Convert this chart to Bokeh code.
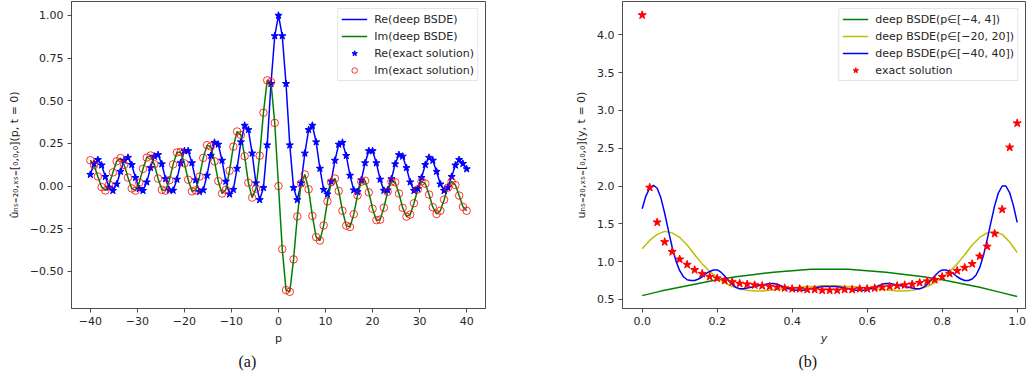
from bokeh.plotting import figure
from bokeh.layouts import row
from bokeh.models import Range1d, FixedTicker, Title
from bokeh.embed import file_html
from bokeh.resources import INLINE

# ---------------- panel (a) data ----------------
p_grid = [-40.0, -39.2, -38.4, -37.6, -36.8, -36.0, -35.2, -34.4, -33.6, -32.8,
          -32.0, -31.2, -30.4, -29.6, -28.8, -28.0, -27.2, -26.4, -25.6, -24.8,
          -24.0, -23.2, -22.4, -21.6, -20.8, -20.0, -19.2, -18.4, -17.6, -16.8,
          -16.0, -15.2, -14.4, -13.6, -12.8, -12.0, -11.2, -10.4, -9.6, -8.8,
          -8.0, -7.2, -6.4, -5.6, -4.8, -4.0, -3.2, -2.4, -1.6, -0.8,
          0.0,
          0.8, 1.6, 2.4, 3.2, 4.0, 4.8, 5.6, 6.4, 7.2, 8.0,
          8.8, 9.6, 10.4, 11.2, 12.0, 12.8, 13.6, 14.4, 15.2, 16.0,
          16.8, 17.6, 18.4, 19.2, 20.0, 20.8, 21.6, 22.4, 23.2, 24.0,
          24.8, 25.6, 26.4, 27.2, 28.0, 28.8, 29.6, 30.4, 31.2, 32.0,
          32.8, 33.6, 34.4, 35.2, 36.0, 36.8, 37.6, 38.4, 39.2, 40.0]

re_exact = [0.067, 0.131, 0.154, 0.122, 0.055, -0.008, -0.027, 0.011, 0.085, 0.150,
            0.167, 0.125, 0.049, -0.016, -0.027, 0.023, 0.107, 0.174, 0.183, 0.129,
            0.042, -0.024, -0.026, 0.039, 0.135, 0.206, 0.206, 0.135, 0.035, -0.034,
            -0.024, 0.062, 0.178, 0.255, 0.244, 0.150, 0.027, -0.048, -0.021, 0.103,
            0.258, 0.355, 0.330, 0.192, 0.017, -0.081, -0.010, 0.240, 0.600, 0.880,
            1.000,
            0.880, 0.600, 0.240, -0.010, -0.081, 0.017, 0.192, 0.330, 0.355, 0.258,
            0.103, -0.021, -0.048, 0.027, 0.150, 0.244, 0.255, 0.178, 0.062, -0.024,
            -0.034, 0.035, 0.135, 0.206, 0.206, 0.135, 0.039, -0.026, -0.024, 0.042,
            0.129, 0.183, 0.174, 0.107, 0.023, -0.027, -0.016, 0.049, 0.125, 0.167,
            0.150, 0.085, 0.011, -0.027, -0.008, 0.055, 0.122, 0.154, 0.131, 0.100]

im_exact = [0.151, 0.122, 0.056, -0.006, -0.026, 0.009, 0.080, 0.145, 0.164, 0.124,
            0.050, -0.014, -0.027, 0.020, 0.101, 0.167, 0.179, 0.128, 0.044, -0.022,
            -0.027, 0.034, 0.127, 0.197, 0.200, 0.133, 0.037, -0.031, -0.025, 0.055,
            0.165, 0.240, 0.232, 0.145, 0.029, -0.044, -0.022, 0.090, 0.231, 0.320,
            0.299, 0.175, 0.019, -0.068, -0.015, 0.178, 0.430, 0.620, 0.610, 0.370,
            0.000,
            -0.370, -0.610, -0.620, -0.430, -0.178, 0.015, 0.068, -0.019, -0.175, -0.299,
            -0.320, -0.231, -0.090, 0.022, 0.044, -0.029, -0.145, -0.232, -0.240, -0.165,
            -0.055, 0.025, 0.031, -0.037, -0.133, -0.200, -0.197, -0.127, -0.034, 0.027,
            0.022, -0.044, -0.128, -0.179, -0.167, -0.101, -0.020, 0.027, 0.014, -0.050,
            -0.124, -0.164, -0.145, -0.080, -0.009, 0.026, 0.006, -0.056, -0.122, -0.145]

re_bsde = list(re_exact)
im_bsde = list(im_exact)

a_xticks = [-40, -30, -20, -10, 0, 10, 20, 30, 40]
a_xlabels = ["\u221240", "\u221230", "\u221220", "\u221210", "0", "10", "20", "30", "40"]
a_yticks = [-0.5, -0.25, 0.0, 0.25, 0.5, 0.75, 1.0]
a_ylabels = ["\u22120.50", "\u22120.25", "0.00", "0.25", "0.50", "0.75", "1.00"]

# ---------------- panel (b) data ----------------
y_exact = [0.00, 0.02, 0.04, 0.06, 0.08, 0.10, 0.12, 0.14, 0.16, 0.18,
           0.20, 0.22, 0.24, 0.26, 0.28, 0.30, 0.32, 0.34, 0.36, 0.38,
           0.40, 0.42, 0.44, 0.46, 0.48, 0.50, 0.52, 0.54, 0.56, 0.58,
           0.60, 0.62, 0.64, 0.66, 0.68, 0.70, 0.72, 0.74, 0.76, 0.78,
           0.80, 0.82, 0.84, 0.86, 0.88, 0.90, 0.92, 0.94, 0.96, 0.98, 1.00]
u_exact = [4.26, 1.98, 1.52, 1.26, 1.13, 1.03, 0.96, 0.89, 0.84, 0.80,
           0.78, 0.75, 0.73, 0.71, 0.70, 0.69, 0.68, 0.67, 0.66, 0.65,
           0.64, 0.64, 0.63, 0.63, 0.62, 0.62, 0.62, 0.63, 0.63, 0.64,
           0.64, 0.65, 0.66, 0.67, 0.68, 0.69, 0.70, 0.72, 0.74, 0.76,
           0.80, 0.84, 0.88, 0.92, 0.97, 1.07, 1.20, 1.37, 1.69, 2.51, 2.83]

y_p4 = [0.00, 0.05, 0.10, 0.15, 0.20, 0.25, 0.30, 0.35, 0.40, 0.45, 0.50,
        0.55, 0.60, 0.65, 0.70, 0.75, 0.80, 0.85, 0.90, 0.95, 1.00]
u_p4 = [0.55, 0.61, 0.66, 0.71, 0.76, 0.80, 0.83, 0.86, 0.88, 0.90, 0.90,
        0.90, 0.88, 0.86, 0.83, 0.80, 0.76, 0.71, 0.66, 0.60, 0.54]

y_p20 = list(y_exact)
u_p20 = [1.17, 1.28, 1.36, 1.40, 1.38, 1.32, 1.22, 1.09, 0.97, 0.87,
         0.79, 0.72, 0.67, 0.64, 0.62, 0.61, 0.61, 0.62, 0.63, 0.64,
         0.65, 0.66, 0.67, 0.67, 0.68, 0.68, 0.68, 0.67, 0.67, 0.66,
         0.65, 0.64, 0.63, 0.62, 0.61, 0.61, 0.62, 0.64, 0.67, 0.72,
         0.79, 0.87, 0.97, 1.09, 1.22, 1.32, 1.38, 1.40, 1.36, 1.26, 1.12]

y_p40 = [0.00, 0.01, 0.02, 0.03, 0.04, 0.05, 0.06, 0.07, 0.08, 0.09,
         0.10, 0.11, 0.12, 0.13, 0.14, 0.15, 0.16, 0.17, 0.18, 0.19,
         0.20, 0.21, 0.22, 0.23, 0.24, 0.25, 0.26, 0.27, 0.28, 0.29,
         0.30, 0.31, 0.32, 0.33, 0.34, 0.35, 0.36, 0.37, 0.38, 0.39,
         0.40, 0.41, 0.42, 0.43, 0.44, 0.45, 0.46, 0.47, 0.48, 0.49,
         0.50, 0.51, 0.52, 0.53, 0.54, 0.55, 0.56, 0.57, 0.58, 0.59,
         0.60, 0.61, 0.62, 0.63, 0.64, 0.65, 0.66, 0.67, 0.68, 0.69,
         0.70, 0.71, 0.72, 0.73, 0.74, 0.75, 0.76, 0.77, 0.78, 0.79,
         0.80, 0.81, 0.82, 0.83, 0.84, 0.85, 0.86, 0.87, 0.88, 0.89,
         0.90, 0.91, 0.92, 0.93, 0.94, 0.95, 0.96, 0.97, 0.98, 0.99, 1.00]
u_p40 = [1.70, 1.87, 1.97, 2.01, 1.97, 1.84, 1.64, 1.41, 1.19, 1.01,
         0.88, 0.80, 0.76, 0.75, 0.75, 0.77, 0.80, 0.84, 0.87, 0.89,
         0.89, 0.86, 0.81, 0.75, 0.70, 0.66, 0.64, 0.64, 0.65, 0.66,
         0.67, 0.68, 0.69, 0.70, 0.71, 0.71, 0.70, 0.68, 0.66, 0.64,
         0.63, 0.62, 0.62, 0.62, 0.63, 0.64, 0.65, 0.66, 0.67, 0.67,
         0.67, 0.67, 0.67, 0.66, 0.65, 0.64, 0.63, 0.62, 0.62, 0.62,
         0.63, 0.64, 0.66, 0.68, 0.70, 0.71, 0.71, 0.70, 0.69, 0.68,
         0.67, 0.66, 0.65, 0.64, 0.64, 0.66, 0.70, 0.75, 0.81, 0.86,
         0.89, 0.89, 0.87, 0.84, 0.80, 0.77, 0.75, 0.75, 0.77, 0.82,
         0.92, 1.08, 1.29, 1.52, 1.74, 1.91, 2.00, 2.00, 1.91, 1.74, 1.52]

b_xticks = [0.0, 0.2, 0.4, 0.6, 0.8, 1.0]
b_xlabels = ["0.0", "0.2", "0.4", "0.6", "0.8", "1.0"]
b_yticks = [0.5, 1.0, 1.5, 2.0, 2.5, 3.0, 3.5, 4.0]
b_ylabels = ["0.5", "1.0", "1.5", "2.0", "2.5", "3.0", "3.5", "4.0"]

FONT = "DejaVu Sans"
FRAME = "#4d4d4d"
TXT = "#262626"


def style(fig, xt, xl, yt, yl):
    fig.grid.visible = False
    fig.outline_line_color = FRAME
    fig.outline_line_width = 1
    fig.xaxis.ticker = FixedTicker(ticks=xt)
    fig.xaxis.major_label_overrides = dict(zip(xt, xl))
    fig.yaxis.ticker = FixedTicker(ticks=yt)
    fig.yaxis.major_label_overrides = dict(zip(yt, yl))
    for ax in (fig.xaxis, fig.yaxis):
        ax.axis_line_color = FRAME
        ax.major_tick_line_color = FRAME
        ax.major_tick_out = 4
        ax.major_tick_in = 0
        ax.minor_tick_out = 0
        ax.minor_tick_in = 0
        ax.major_label_text_font = FONT
        ax.major_label_text_font_size = "11px"
        ax.major_label_text_color = TXT
        ax.axis_label_text_font = FONT
        ax.axis_label_text_color = TXT
    fig.xaxis.major_label_standoff = 4
    fig.yaxis.major_label_standoff = 4


def style_legend(fig):
    lg = fig.legend[0]
    lg.location = "top_right"
    lg.margin = 7
    lg.padding = 3
    lg.spacing = 3
    lg.label_height = 14
    lg.glyph_height = 14
    lg.glyph_width = 26
    lg.label_standoff = 7
    lg.label_text_font = FONT
    lg.label_text_font_size = "11px"
    lg.label_text_color = TXT
    lg.border_line_color = "#cccccc"
    lg.border_line_width = 1
    lg.background_fill_alpha = 0.8


# ---------------- panel (a) ----------------
pa = figure(width=520, height=379, output_backend="svg", toolbar_location=None,
            x_range=Range1d(-44.0, 44.0), y_range=Range1d(-0.718, 1.082),
            min_border_left=71, min_border_right=35, min_border_top=1,
            min_border_bottom=71)
style(pa, a_xticks, a_xlabels, a_yticks, a_ylabels)
pa.xaxis.axis_label = "p"
pa.xaxis.axis_label_text_font_size = "11px"
pa.xaxis.axis_label_text_font_style = "normal"
pa.xaxis.axis_label_standoff = 4
pa.yaxis.axis_label = "\u00fb\u2099\u209b\u208c\u2082\u2080,\u2093\u209b\u208c[\u2080,\u2080,\u2080](p, t = 0)"
pa.yaxis.axis_label_text_font_size = "11px"
pa.yaxis.axis_label_text_font_style = "normal"
pa.yaxis.axis_label_standoff = 6

pa.line(p_grid, re_bsde, line_color="#0000ff", line_width=1.5, legend_label="Re(deep BSDE)")
pa.line(p_grid, im_bsde, line_color="#008000", line_width=1.5, legend_label="Im(deep BSDE)")
pa.scatter(p_grid, re_exact, marker="star", size=7.5, fill_color="#0000ff",
           line_color="#0000ff", legend_label="Re(exact solution)")
pa.scatter(p_grid, im_exact, marker="circle", size=7.5, fill_color=None,
           line_color="#ff0000", line_width=1, line_alpha=0.8,
           legend_label="Im(exact solution)")
style_legend(pa)
pa.add_layout(Title(text="(a)", align="left", offset=167, text_font="Liberation Serif",
                    text_font_size="16px", text_font_style="normal",
                    text_color="#111111", standoff=6), "below")

# ---------------- panel (b) ----------------
pb = figure(width=507, height=379, output_backend="svg", toolbar_location=None,
            x_range=Range1d(-0.0525, 1.0222), y_range=Range1d(0.38, 4.44),
            min_border_left=102, min_border_right=2, min_border_top=1,
            min_border_bottom=71)
style(pb, b_xticks, b_xlabels, b_yticks, b_ylabels)
pb.xaxis.axis_label = "y"
pb.xaxis.axis_label_text_font_size = "11px"
pb.xaxis.axis_label_text_font_style = "italic"
pb.xaxis.axis_label_standoff = 4
pb.yaxis.axis_label = "u\u2099\u209b\u208c\u2082\u2080,\u2093\u209b\u208c[\u2080,\u2080,\u2080](y, t = 0)"
pb.yaxis.axis_label_text_font_size = "11px"
pb.yaxis.axis_label_text_font_style = "normal"
pb.yaxis.axis_label_standoff = 6

pb.line(y_p4, u_p4, line_color="#008000", line_width=1.5,
        legend_label="deep BSDE(p\u2208[\u22124, 4])")
pb.line(y_p20, u_p20, line_color="#bfbf00", line_width=1.5,
        legend_label="deep BSDE(p\u2208[\u221220, 20])")
pb.line(y_p40, u_p40, line_color="#0000ff", line_width=1.5,
        legend_label="deep BSDE(p\u2208[\u221240, 40])")
pb.scatter(y_exact, u_exact, marker="star", size=8.5, fill_color="#ff0000",
           line_color="#ff0000", legend_label="exact solution")
style_legend(pb)
pb.add_layout(Title(text="(b)", align="left", offset=176, text_font="Liberation Serif",
                    text_font_size="16px", text_font_style="normal",
                    text_color="#111111", standoff=6), "below")

layout = row(pa, pb)
open("out.html", "w").write(file_html(layout, INLINE))
